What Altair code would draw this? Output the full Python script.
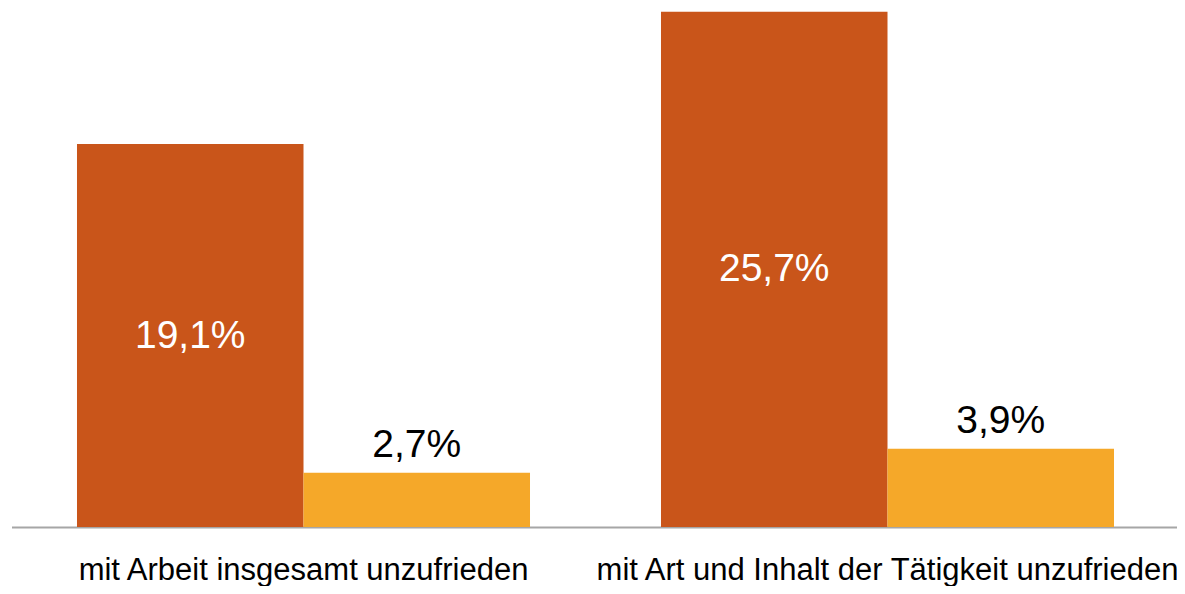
import altair as alt
import pandas as pd

categories = ["mit Arbeit insgesamt unzufrieden", "mit Art und Inhalt der Tätigkeit unzufrieden"]
series = ["Gruppe A", "Gruppe B"]
values_a = [19.1, 25.7]
values_b = [2.7, 3.9]

colors = ["#C9551A", "#F5A829"]
legend_color = "#FF6A0F"

rows = []
for i, c in enumerate(categories):
    for s, vals in zip(series, [values_a, values_b]):
        v = vals[i]
        rows.append({
            "cat": c,
            "ser": s,
            "val": v,
            "half": v / 2,
            "label": f"{v:.1f}".replace(".", ",") + "%",
        })
df = pd.DataFrame(rows)

W = 1169
H = 519
x_scale = alt.Scale(domain=categories, range=[3.5, 1171.5], paddingInner=0.2243, paddingOuter=0.11215)
y_scale = alt.Scale(domain=[0, 25.885], nice=False, zero=True)
off_scale = alt.Scale(domain=series, paddingInner=0, paddingOuter=0)

x_enc = alt.X("cat:N", scale=x_scale, sort=categories, title=None,
              axis=alt.Axis(labelAngle=0, labelFontSize=31, labelFont="Liberation Sans",
                            labelColor="#000000", labelLimit=0, labelOverlap=False,
                            labelBaseline="alphabetic", labelPadding=52,
                            ticks=False, tickSize=0, domainColor="#A6A6A6",
                            domainWidth=2, grid=False))
xo_enc = alt.XOffset("ser:N", scale=off_scale, sort=series)

bars = alt.Chart(df).mark_bar(cornerRadius=0).encode(
    x=x_enc,
    xOffset=xo_enc,
    y=alt.Y("val:Q", scale=y_scale, axis=None),
    color=alt.Color("ser:N", scale=alt.Scale(domain=series, range=colors), legend=None),
)

# legend only: separate field so it is not merged with the (hidden) colour legend;
# no marks are drawn (empty after filter), the legend comes from the explicit domain
legend_layer = alt.Chart(df).transform_calculate(leg="datum.ser").transform_filter(
    alt.datum.val < 0
).mark_square(filled=True).encode(
    x=alt.X("cat:N", scale=x_scale, sort=categories),
    y=alt.Y("val:Q", scale=y_scale),
    fill=alt.Fill("leg:N", scale=alt.Scale(domain=series, range=[legend_color, legend_color]),
                  legend=alt.Legend(orient="none", legendX=1159, legendY=90,
                                    direction="horizontal", title=None,
                                    symbolType="square", symbolSize=576,
                                    symbolStrokeWidth=0, symbolOpacity=1, padding=0,
                                    labelFontSize=20, labelColor="#000000",
                                    columnPadding=200,
                                    labelFont="Liberation Sans")),
)

inner = alt.Chart(df).transform_filter(alt.datum.ser == series[0]).mark_text(
    font="Liberation Sans", fontSize=39, color="#FFFFFF", baseline="middle", align="center"
).encode(
    x=alt.X("cat:N", scale=x_scale, sort=categories),
    xOffset=xo_enc,
    y=alt.Y("half:Q", scale=y_scale),
    text="label:N",
)

outer = alt.Chart(df).transform_filter(alt.datum.ser == series[1]).mark_text(
    font="Liberation Sans", fontSize=39, color="#000000", baseline="alphabetic", align="center", dy=-16
).encode(
    x=alt.X("cat:N", scale=x_scale, sort=categories),
    xOffset=xo_enc,
    y=alt.Y("val:Q", scale=y_scale),
    text="label:N",
)

chart = alt.layer(bars, inner, outer, legend_layer).properties(
    width=W, height=H,
    padding={"left": 0, "top": 0, "right": 0, "bottom": 59},
    autosize=alt.AutoSizeParams(type="none"),
    background="#FFFFFF",
).configure_view(stroke=None)

chart.save("out.html", embed_options={"renderer": "svg", "actions": False})
